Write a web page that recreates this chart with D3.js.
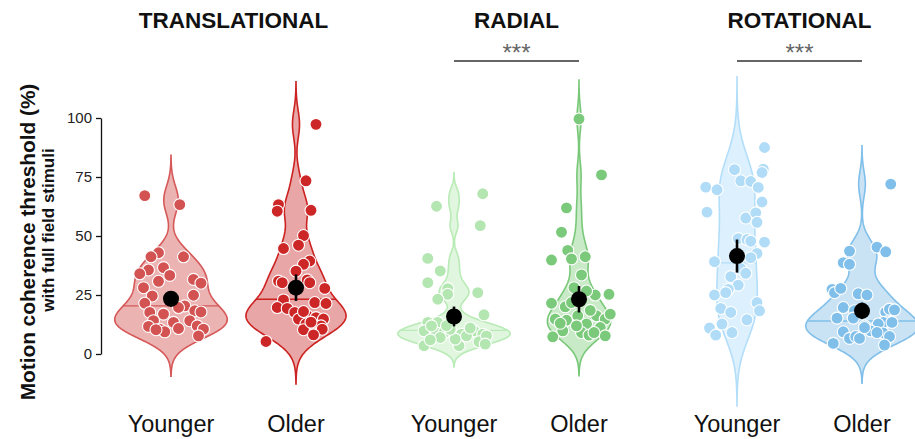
<!DOCTYPE html>
<html><head><meta charset="utf-8">
<script src="https://cdn.jsdelivr.net/npm/d3@7"></script>
<style>
html,body{margin:0;padding:0;background:#fff;}
svg{display:block;font-family:"Liberation Sans",Arial,sans-serif;}
</style></head>
<body>
<svg id="chart" width="915" height="439"></svg>
<script>
// ---------- data ----------
const panels = ["TRANSLATIONAL", "RADIAL", "ROTATIONAL"];
const groups = ["Younger", "Older"];
const yTicks = [0, 25, 50, 75, 100];
const significance = ["", "***", "***"];

// each point: [threshold %, horizontal jitter in category units]
const translationalYounger = [[67.1,-0.21],[63.3,0.07],[42.9,-0.10],[41.2,-0.16],[41.2,0.10],[35.6,-0.18],[36.6,-0.06],[34.0,-0.25],[33.3,-0.01],[30.8,-0.10],[31.6,0.18],[30.0,0.24],[28.1,-0.22],[24.6,-0.15],[24.9,0.18],[21.5,-0.21],[20.4,0.11],[19.7,0.06],[17.6,-0.17],[16.9,-0.06],[18.3,0.19],[17.8,0.24],[14.1,-0.14],[13.4,0.02],[14.1,0.15],[11.7,-0.18],[10.5,-0.09],[9.4,-0.05],[10.8,0.06],[11.9,0.21],[10.5,0.26],[7.7,0.22],[10.3,-0.12]];
const translationalOlder = [[97.3,0.16],[73.4,0.08],[63.3,-0.14],[60.5,-0.15],[60.9,0.12],[50.2,0.06],[44.7,-0.10],[46.1,0.02],[39.4,0.11],[38.0,0.06],[35.1,0.0],[30.9,-0.14],[31.4,0.09],[30.2,0.11],[30.2,-0.11],[27.8,0.23],[22.9,-0.10],[19.7,-0.15],[19.3,-0.07],[17.6,-0.01],[21.8,0.15],[21.4,0.24],[16.2,0.09],[15.4,0.16],[14.8,0.22],[14.8,0.02],[12.7,0.08],[11.9,0.20],[10.3,0.06],[10.5,0.21],[8.1,0.14],[5.3,-0.24],[13.5,0.12],[18.0,0.06]];
const radialYounger = [[67.9,0.23],[62.6,-0.14],[54.4,0.21],[40.5,-0.21],[35.2,-0.11],[30.2,-0.21],[27.7,-0.05],[25.3,-0.05],[23.2,-0.13],[26.0,0.19],[16.6,0.24],[13.4,-0.21],[13.4,-0.13],[9.8,-0.24],[8.9,-0.14],[9.1,-0.08],[8.4,0.06],[9.8,0.16],[8.4,0.23],[5.2,0.20],[3.5,-0.24],[3.5,0.04],[6.3,0.01],[7.7,0.10],[11.9,-0.18],[7.7,0.26],[4.2,0.25],[10.5,-0.03],[12.0,-0.06],[7.0,-0.11],[11.0,0.13],[6.0,-0.19]];
const radialOlder = [[99.6,0.0],[75.9,0.18],[61.9,-0.10],[51.6,-0.14],[39.8,-0.22],[43.9,-0.09],[40.3,-0.06],[41.2,0.05],[33.5,0.02],[21.5,-0.22],[20.0,-0.11],[25.0,0.13],[25.3,0.24],[28.1,-0.04],[26.7,0.06],[14.8,-0.19],[14.3,-0.10],[16.2,-0.01],[12.7,0.06],[16.2,0.14],[14.8,0.21],[16.9,0.25],[9.8,-0.13],[9.1,0.02],[8.0,0.08],[11.2,0.17],[7.7,0.21],[7.3,-0.21],[11.9,-0.02],[9.1,0.12],[21.8,-0.06],[18.5,0.09],[13.0,-0.15]];
const rotationalYounger = [[87.5,0.22],[78.3,0.21],[76.9,0.20],[78.1,-0.02],[73.4,0.03],[73.1,0.11],[70.6,0.17],[70.7,-0.25],[69.6,-0.16],[64.4,0.20],[60.1,-0.24],[57.6,0.07],[59.8,0.15],[55.8,0.16],[48.9,0.01],[48.5,0.08],[47.8,0.11],[47.4,0.22],[42.6,0.16],[40.8,0.11],[39.1,-0.18],[36.2,0.03],[34.2,0.07],[32.8,-0.05],[29.2,0.01],[27.4,-0.07],[25.0,-0.18],[26.0,-0.09],[21.8,0.16],[18.3,0.18],[19.3,-0.13],[17.6,-0.05],[14.5,0.08],[12.7,-0.12],[11.0,-0.22],[9.1,-0.04],[8.0,-0.17]];
const rotationalOlder = [[72.0,0.23],[45.3,0.12],[43.3,0.19],[43.6,-0.10],[38.7,-0.15],[38.0,-0.10],[27.4,-0.24],[26.0,-0.22],[27.8,-0.17],[25.5,-0.03],[25.0,0.04],[19.7,-0.15],[18.3,-0.06],[15.2,-0.20],[15.2,-0.07],[17.8,0.19],[19.0,0.22],[18.7,0.26],[13.6,0.20],[13.4,0.17],[13.4,0.24],[12.7,0.13],[11.9,0.02],[9.8,0.07],[9.4,-0.15],[6.6,-0.10],[7.4,-0.05],[6.6,-0.02],[8.9,0.17],[7.4,0.22],[3.8,0.18],[4.5,-0.23],[11.2,0.02],[9.1,0.12]];

// summary values (order: T-Y, T-O, R-Y, R-O, Rot-Y, Rot-O)
const groupMeans   = [23.4, 28.1, 15.9, 23.2, 41.5, 18.3];
const groupErrors  = [3.3, 5.6, 4.2, 5.6, 7.0, 3.5];
const groupMedians = [20.4, 23.2, 10.0, 15.0, 38.6, 14.0];
const bandwidths   = [5.7, 6.0, 3.0, 5.5, 10.0, 5.4];

const pointsByGroup = [translationalYounger, translationalOlder, radialYounger, radialOlder, rotationalYounger, rotationalOlder];

// colours
const pointColors   = ["#d35252", "#cc2626", "#b4e6b1", "#7bc97a", "#b1dcf8", "#80bfea"];
const violinFills   = ["#ecb3b3", "#e9a6a6", "#e1f6df", "#c9eac7", "#ddf0fd", "#c9e3f5"];
const violinStrokes = ["#d65858", "#cc2222", "#b8ebb5", "#79c879", "#b3defa", "#80bfea"];

// ---------- layout ----------
const svg = d3.select("#chart");
const y = d3.scaleLinear().domain([0, 100]).range([354, 118]);
const panelScale = d3.scaleBand().domain(panels).range([96, 937]).paddingInner(0.0283);
const groupScale = d3.scalePoint().domain(groups).range([0, panelScale.bandwidth()]).padding(0.6);
const step = groupScale.step();
const maxHalf = 0.9 * step / 2;

function gaussKDE(values, bw) {
  const lo = d3.min(values) - 3 * bw, hi = d3.max(values) + 3 * bw;
  const n = 256, out = [];
  const c = 1 / (values.length * bw * Math.sqrt(2 * Math.PI));
  for (let i = 0; i < n; i++) {
    const v = lo + (hi - lo) * i / (n - 1);
    let s = 0;
    for (const x of values) { const z = (v - x) / bw; s += Math.exp(-0.5 * z * z); }
    out.push({ v, d: s * c });
  }
  return out;
}
function densityAt(values, bw, v) {
  const c = 1 / (values.length * bw * Math.sqrt(2 * Math.PI));
  let s = 0;
  for (const x of values) { const z = (v - x) / bw; s += Math.exp(-0.5 * z * z); }
  return s * c;
}

const gViol = svg.append("g"), gPts = svg.append("g"), gMean = svg.append("g");

panels.forEach((p, pi) => {
  const dens = [0, 1].map(k => {
    const idx = pi * 2 + k;
    const vals = pointsByGroup[idx].map(d => d[0]);
    return gaussKDE(vals, bandwidths[idx]);
  });
  const maxD = d3.max(dens.flat(), d => d.d);
  const w = d3.scaleLinear().domain([0, maxD]).range([0, maxHalf]);

  groups.forEach((g, k) => {
    const idx = pi * 2 + k;
    const cx = panelScale(p) + groupScale(g);
    const vals = pointsByGroup[idx].map(d => d[0]);
    const area = d3.area()
      .y(d => y(d.v))
      .x0(d => cx - w(d.d))
      .x1(d => cx + w(d.d));
    gViol.append("path").datum(dens[k]).attr("d", area)
      .attr("fill", violinFills[idx]).attr("stroke", violinStrokes[idx]).attr("stroke-width", 1.6);
    const md = groupMedians[idx];
    const hw = w(densityAt(vals, bandwidths[idx], md));
    gViol.append("line").attr("x1", cx - hw).attr("x2", cx + hw)
      .attr("y1", y(md)).attr("y2", y(md))
      .attr("stroke", violinStrokes[idx]).attr("stroke-width", 1.4);

    gPts.selectAll(null).data(pointsByGroup[idx]).enter().append("circle")
      .attr("cx", d => cx + d[1] * step)
      .attr("cy", d => y(d[0]))
      .attr("r", 6)
      .attr("fill", pointColors[idx])
      .attr("stroke", "#fff").attr("stroke-width", 1.1);

    gMean.append("line").attr("x1", cx).attr("x2", cx)
      .attr("y1", y(groupMeans[idx] - groupErrors[idx]))
      .attr("y2", y(groupMeans[idx] + groupErrors[idx]))
      .attr("stroke", "#000").attr("stroke-width", 2.6);
    gMean.append("circle").attr("cx", cx).attr("cy", y(groupMeans[idx])).attr("r", 8).attr("fill", "#000");

    svg.append("text").attr("x", cx).attr("y", 432).attr("text-anchor", "middle")
      .attr("font-size", 23.5).attr("fill", "#111").text(g);
  });

  const pc = panelScale(p) + panelScale.bandwidth() / 2;
  svg.append("text").attr("x", pc).attr("y", 28).attr("text-anchor", "middle")
    .attr("font-size", 22.5).attr("font-weight", "bold").attr("fill", "#111").text(p);

  if (significance[pi]) {
    const x1 = panelScale(p) + groupScale(groups[0]);
    const x2 = panelScale(p) + groupScale(groups[1]);
    svg.append("line").attr("x1", x1).attr("x2", x2).attr("y1", 61).attr("y2", 61)
      .attr("stroke", "#666").attr("stroke-width", 2);
    svg.append("text").attr("x", (x1 + x2) / 2).attr("y", 61).attr("text-anchor", "middle")
      .attr("font-size", 24).attr("fill", "#666").text(significance[pi]);
  }
});

// y axis
const ax = svg.append("g").attr("transform", "translate(101,0)")
  .call(d3.axisLeft(y).tickValues(yTicks).tickSize(5).tickSizeOuter(0).tickPadding(4));
ax.select(".domain").attr("stroke", "#111").attr("stroke-width", 1.3);
ax.selectAll(".tick line").attr("stroke", "#111").attr("stroke-width", 1.3);
ax.selectAll(".tick text").attr("font-size", 15).attr("fill", "#222")
  .style("font-family", "'Liberation Sans', Arial, sans-serif");

svg.append("text").attr("transform", "translate(35,242) rotate(-90)")
  .attr("text-anchor", "middle").attr("font-size", 20.8).attr("font-weight", "bold").attr("fill", "#111")
  .text("Motion coherence threshold (%)");
svg.append("text").attr("transform", "translate(54,230) rotate(-90)")
  .attr("text-anchor", "middle").attr("font-size", 17).attr("font-weight", "bold").attr("fill", "#111")
  .text("with full field stimuli");
</script>
</body></html>
